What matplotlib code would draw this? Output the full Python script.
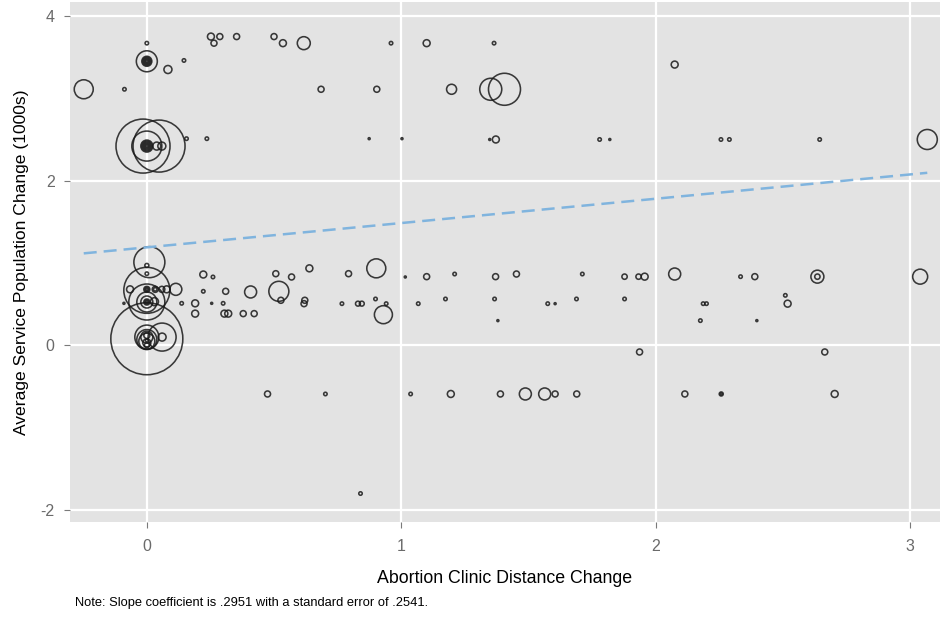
import matplotlib
matplotlib.use("Agg")
import matplotlib.pyplot as plt
import numpy as np

# ---- data (x = clinic distance change, y = service population change, w = weight) ----
x_top = [0.0, 0.264, 0.535, 0.617, 0.96, 1.10, 1.365,
         0.252, 0.287, 0.353, 0.50,
         0.0, 0.0, 0.0, 0.0, 0.0, 0.0, 0.146, 0.083,
         -0.248, -0.088, 0.685, 0.904, 1.198, 1.352, 1.406, 2.075]
y_top = [3.67, 3.67, 3.67, 3.67, 3.67, 3.67, 3.67,
         3.75, 3.75, 3.75, 3.75,
         3.45, 3.45, 3.45, 3.45, 3.45, 3.45, 3.46, 3.35,
         3.11, 3.11, 3.11, 3.11, 3.11, 3.11, 3.11, 3.41]
w_top = [3, 9, 12, 42, 3, 12, 3,
         12, 9, 9, 9,
         110, 25, 16, 9, 4, 1, 3, 16,
         90, 3, 9, 9, 25, 121, 256, 12]

x_r25 = [-0.015, 0.048, 0.0, 0.0, 0.0, 0.0, 0.0, 0.0, 0.0, 0.039, 0.059,
         0.156, 0.236, 0.874, 1.003, 1.348, 1.372, 1.78, 1.82,
         2.257, 2.29, 2.645, 3.068]
y_r25 = [2.42, 2.42, 2.42, 2.42, 2.42, 2.42, 2.42, 2.42, 2.42, 2.42, 2.42,
         2.51, 2.51, 2.51, 2.51, 2.50, 2.50, 2.50, 2.50,
         2.50, 2.50, 2.50, 2.50]
w_r25 = [729, 676, 225, 36, 25, 16, 9, 4, 1, 16, 16,
         3, 3, 1, 1, 1, 12, 3, 1,
         3, 3, 3, 100]

x_mid = [0.01, 0.0, 0.0, 0.222, 0.26, 0.507, 0.569, 0.639, 0.793, 0.902,
         1.016, 1.10, 1.21, 1.371, 1.453, 1.712, 1.878, 1.933, 1.957, 2.075,
         2.334, 2.39, 2.636, 2.636, 3.04,
         0.0, -0.066, 0.0, 0.0, 0.0, 0.033, 0.033, 0.059, 0.078, 0.114, 0.222, 0.31, 0.408, 0.519,
         0.0, 0.0, 0.0, 0.0, 0.0, 0.0, 0.03, -0.09, 0.137, 0.19, 0.255, 0.30,
         0.527, 0.621, 0.618, 0.767, 0.83, 0.845, 0.899, 0.941, 1.067, 1.174,
         1.367, 1.576, 1.605, 1.689, 1.878, 2.187, 2.20, 2.51, 2.519,
         0.19, 0.305, 0.32, 0.379, 0.422, 0.93, 1.38, 2.176, 2.398]
y_mid = [1.01, 0.97, 0.87, 0.86, 0.83, 0.87, 0.83, 0.935, 0.87, 0.935,
         0.83, 0.834, 0.866, 0.834, 0.866, 0.866, 0.834, 0.834, 0.834, 0.866,
         0.834, 0.834, 0.834, 0.834, 0.834,
         0.668, 0.68, 0.68, 0.68, 0.68, 0.68, 0.68, 0.68, 0.68, 0.68, 0.656, 0.656, 0.648, 0.656,
         0.526, 0.526, 0.526, 0.526, 0.526, 0.526, 0.53, 0.51, 0.51, 0.51, 0.51, 0.51,
         0.547, 0.547, 0.506, 0.506, 0.506, 0.506, 0.563, 0.506, 0.506, 0.563,
         0.563, 0.506, 0.506, 0.563, 0.563, 0.506, 0.506, 0.607, 0.506,
         0.385, 0.385, 0.385, 0.385, 0.385, 0.372, 0.30, 0.30, 0.30]
w_mid = [240, 4, 3, 12, 3, 9, 9, 12, 9, 90,
         1, 9, 3, 9, 9, 3, 7, 7, 12, 36,
         3, 9, 42, 7, 56,
         529, 12, 9, 4, 1, 9, 3, 9, 12, 36, 3, 9, 36, 100,
         324, 100, 36, 9, 4, 1, 16, 1, 3, 12, 1, 3,
         9, 9, 9, 3, 6, 6, 3, 3, 3, 3,
         3, 3, 1, 3, 3, 3, 3, 3, 12,
         12, 12, 12, 9, 9, 81, 1, 3, 1]

x_low = [0.0, 0.06, 0.0, 0.0, 0.0, 0.0, 0.0, 0.0, 0.0, 0.0, 0.06,
         1.937, 2.665,
         0.4745, 0.702, 1.037, 1.195, 1.39, 1.488, 1.564, 1.605, 1.69,
         2.115, 2.258, 2.258, 2.704, 0.84]
y_low = [0.08, 0.10, 0.10, 0.07, 0.05, 0.10, 0.03, 0.12, 0.0, 0.06, 0.10,
         -0.081, -0.081,
         -0.591, -0.591, -0.591, -0.591, -0.591, -0.591, -0.591, -0.591, -0.591,
         -0.591, -0.591, -0.591, -0.591, -1.80]
w_low = [1296, 196, 144, 100, 64, 36, 16, 9, 6, 2, 16,
         9, 9,
         9, 3, 3, 12, 9, 36, 36, 9, 9,
         9, 4, 1, 12, 3]

slope = 0.2951
intercept = 1.19

x_ticks = [0, 1, 2, 3]
y_ticks = [-2, 0, 2, 4]

# ---- assemble ----
xs = np.array(x_top + x_r25 + x_mid + x_low)
ys = np.array(y_top + y_r25 + y_mid + y_low)
ws = np.array(w_top + w_r25 + w_mid + w_low, dtype=float)

DPI = 100
fig = plt.figure(figsize=(9.43, 6.20), dpi=DPI)
ax = fig.add_axes([70/943, 98/620, 870/943, 520/620])
ax.set_facecolor('#e3e3e3')

for t in x_ticks:
    ax.axvline(t, color='white', lw=1.6, zorder=1)
for t in y_ticks:
    ax.axhline(t, color='white', lw=1.6, zorder=1)

# weight -> marker area (points^2)
sizes = ws * (2 * 72 / DPI) ** 2
order = np.argsort(-ws)
ax.scatter(xs[order], ys[order], s=sizes[order], facecolors='none',
           edgecolors='#1a1a1a', linewidths=1.15, alpha=0.85, zorder=3)

xl = np.array([xs.min(), xs.max()])
ax.plot(xl, intercept + slope * xl, color='#80b4de', lw=1.8,
        dashes=(5.2, 2.8), zorder=4)

ax.set_xlim(-0.302, 3.118)
ax.set_ylim(-2.146, 4.17)
ax.set_xticks(x_ticks)
ax.set_yticks(y_ticks)
ax.set_xticklabels([str(t) for t in x_ticks])
ax.set_yticklabels([str(t) for t in y_ticks])
for s in ax.spines.values():
    s.set_visible(False)
ax.tick_params(axis='both', colors='#7a7a7a', labelcolor='#6a6a6a',
               labelsize=11.5, length=4, width=0.8)
ax.tick_params(axis='x', pad=8)
ax.tick_params(axis='y', pad=7)
for lab in ax.get_xticklabels() + ax.get_yticklabels():
    lab.set_family('Liberation Sans')

ax.set_xlabel('Abortion Clinic Distance Change', fontsize=12.8,
              family='Liberation Sans', labelpad=12)
ax.set_ylabel('Average Service Population Change (1000s)', fontsize=12.6,
              family='Liberation Sans', labelpad=8)

fig.text(75/943, 1 - 603/620, 'Note: Slope coefficient is .2951 with a standard error of .2541.',
         fontsize=9.3, family='Liberation Sans', va='center', ha='left')

fig.savefig('out.png', dpi=DPI, facecolor='white')
